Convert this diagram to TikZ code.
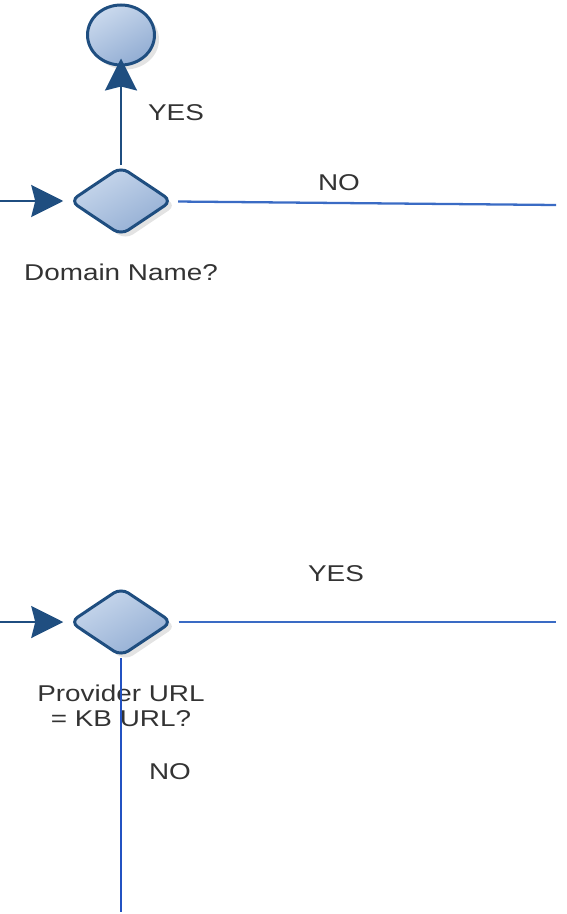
\documentclass[tikz,border=0pt]{standalone}
\usepackage{fontspec}
\setmainfont{Liberation Sans}
\newfontfamily\flowfont[FakeStretch=1.22]{Liberation Sans}
\usetikzlibrary{arrows.meta, positioning, shapes.geometric, shadows}
\definecolor{cdark}{HTML}{1F4E80}
\definecolor{cline}{HTML}{3A6BC4}
\definecolor{cvert}{HTML}{2352C2}
\definecolor{ctop}{HTML}{CAD9ED}
\definecolor{cbot}{HTML}{92ADD3}
\tikzset{
  every picture/.style={font=\flowfont\fontsize{13}{14.2}\selectfont},
  shaded/.style={draw=cdark, line width=1.7pt, top color=ctop, bottom color=cbot, shading angle=30,
    drop shadow={shadow xshift=0.09cm, shadow yshift=-0.09cm, fill=black!22}},
  gate/.style={shaded, diamond, aspect=1.5, rounded corners=5pt, minimum width=2.05cm, minimum height=1.38cm, inner sep=0pt},
  endstate/.style={shaded, ellipse, minimum width=1.34cm, minimum height=1.2cm, inner sep=0pt},
  flow/.style={draw=cdark, line width=1.3pt, -{Stealth[length=0.64cm, width=0.64cm, inset=0.08cm]}},
  branch/.style={draw=cline, line width=1.3pt},
  lbl/.style={text=black!80, align=center},
}
\begin{document}
\begin{tikzpicture}
  \useasboundingbox (0,0) rectangle (11.32,-18.28);
  \node[endstate] (done) at (2.42, -0.70) {};
  \node[gate] (dom) at (2.42, -4.02) {};
  \node[gate] (prov) at (2.42, -12.44) {};
  \coordinate (in1) at (0, -4.02); \coordinate (out1) at (11.12, -4.10);
  \coordinate (in2) at (0, -12.44); \coordinate (out2) at (11.12, -12.44);
  \coordinate (down) at (2.42, -18.24);
  % first decision
  \draw[flow, shorten >=-0.16cm] (dom) -- (done);
  \draw[flow, shorten >=0.1cm] (in1) -- (dom);
  \draw[branch, shorten <=0.1cm] (dom) -- (out1);
  \node[lbl] (yes1) at (3.52, -2.26) {YES};
  \node[lbl] (no1) at (6.78, -3.66) {NO};
  \node[lbl] (domlbl) at (2.42, -5.44) {Domain Name?};
  % second decision
  \draw[flow, shorten >=0.1cm] (in2) -- (prov);
  \draw[branch, shorten <=0.1cm] (prov) -- (out2);
  \node[lbl] (yes2) at (6.72, -11.48) {YES};
  \node[lbl] (provlbl) at (2.42, -14.11) {Provider URL\\= KB URL?};
  \node[lbl] (no2) at (3.40, -15.44) {NO};
  \draw[draw=cvert, line width=1.3pt] (prov) -- (down);
\end{tikzpicture}
\end{document}
